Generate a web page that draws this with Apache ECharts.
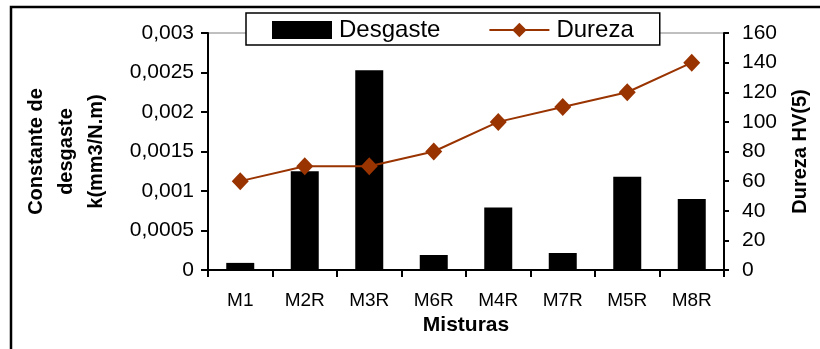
<!DOCTYPE html>
<html><head><meta charset="utf-8">
<script src="https://cdn.jsdelivr.net/npm/echarts@6/dist/echarts.min.js"></script>
<style>html,body{margin:0;padding:0;background:#fff}#c{width:820px;height:349px}</style>
</head><body><div id="c"></div>
<script>
var categories = ['M1','M2R','M3R','M6R','M4R','M7R','M5R','M8R'];
var desgaste = [0.00009, 0.00125, 0.00253, 0.00019, 0.00079, 0.000215, 0.00118, 0.0009];
var dureza = [60, 70, 70, 80, 100, 110, 120, 140];
var leftTicks = [0, 0.0005, 0.001, 0.0015, 0.002, 0.0025, 0.003];
var rightTicks = [0, 20, 40, 60, 80, 100, 120, 140, 160];

var FONT = '"Liberation Sans", Arial, sans-serif';
var chart = echarts.init(document.getElementById('c'), null, {renderer: 'canvas'});
chart.setOption({
  animation: false,
  backgroundColor: '#fff',
  textStyle: {fontFamily: FONT, color: '#000'},
  graphic: [{
    type: 'rect', shape: {x: 11, y: 7, width: 1000, height: 500},
    style: {fill: null, stroke: '#000', lineWidth: 2.5}, z: 100, silent: true
  }],
  grid: {left: 208, right: 96, top: 33, bottom: 79, show: true, borderColor: '#808080', borderWidth: 1},
  legend: {
    left: 246, top: 13,
    padding: [5, 26, 3, 26],
    itemWidth: 60, itemHeight: 18, itemGap: 48,
    backgroundColor: '#fff', borderColor: '#000', borderWidth: 1.5,
    textStyle: {fontFamily: FONT, fontSize: 24, color: '#000', padding: [0, 0, 0, 2]},
    data: [{name: 'Desgaste', icon: 'rect'}, {name: 'Dureza'}]
  },
  xAxis: {
    type: 'category', data: categories, boundaryGap: true,
    axisLine: {lineStyle: {color: '#000', width: 2}},
    axisTick: {show: true, length: 7, lineStyle: {color: '#000', width: 2}},
    axisLabel: {fontFamily: FONT, fontSize: 19, color: '#000', margin: 21},
    name: 'Misturas', nameLocation: 'middle', nameGap: 45,
    nameTextStyle: {fontFamily: FONT, fontSize: 21, fontWeight: 'bold', color: '#000'}
  },
  yAxis: [{
    type: 'value', min: 0, max: 0.003, interval: 0.0005, position: 'left',
    splitLine: {show: false},
    axisLine: {show: true, lineStyle: {color: '#000', width: 2}},
    axisTick: {show: true, length: 7, lineStyle: {color: '#000', width: 2}},
    axisLabel: {fontFamily: FONT, fontSize: 21, color: '#000', margin: 14,
      formatter: function (v) {
        var best = leftTicks.reduce(function (a, b) { return Math.abs(b - v) < Math.abs(a - v) ? b : a; });
        return String(best).replace('.', ',');
      }},
    name: 'Constante de\ndesgaste\nk(mm3/N.m)', nameLocation: 'middle', nameRotate: 90, nameGap: 97,
    nameTextStyle: {fontFamily: FONT, fontSize: 20, fontWeight: 'bold', color: '#000', lineHeight: 30, align: 'center'}
  }, {
    type: 'value', min: 0, max: 160, interval: 20, position: 'right',
    splitLine: {show: false},
    axisLine: {show: true, lineStyle: {color: '#000', width: 2}},
    axisTick: {show: true, length: 5, lineStyle: {color: '#000', width: 2}},
    axisLabel: {fontFamily: FONT, fontSize: 21, color: '#000', margin: 18,
      formatter: function (v) { return String(rightTicks[Math.round(v / 20)]); }},
    name: 'Dureza HV(5)', nameLocation: 'middle', nameRotate: 90, nameGap: 66,
    nameTextStyle: {fontFamily: FONT, fontSize: 20, fontWeight: 'bold', color: '#000'}
  }],
  series: [{
    name: 'Desgaste', type: 'bar', yAxisIndex: 0, data: desgaste,
    barWidth: 28, itemStyle: {color: '#000'}
  }, {
    name: 'Dureza', type: 'line', yAxisIndex: 1, data: dureza,
    symbol: 'diamond', symbolSize: [17, 18],
    lineStyle: {color: '#993300', width: 2}, itemStyle: {color: '#993300'}
  }]
});
</script></body></html>
